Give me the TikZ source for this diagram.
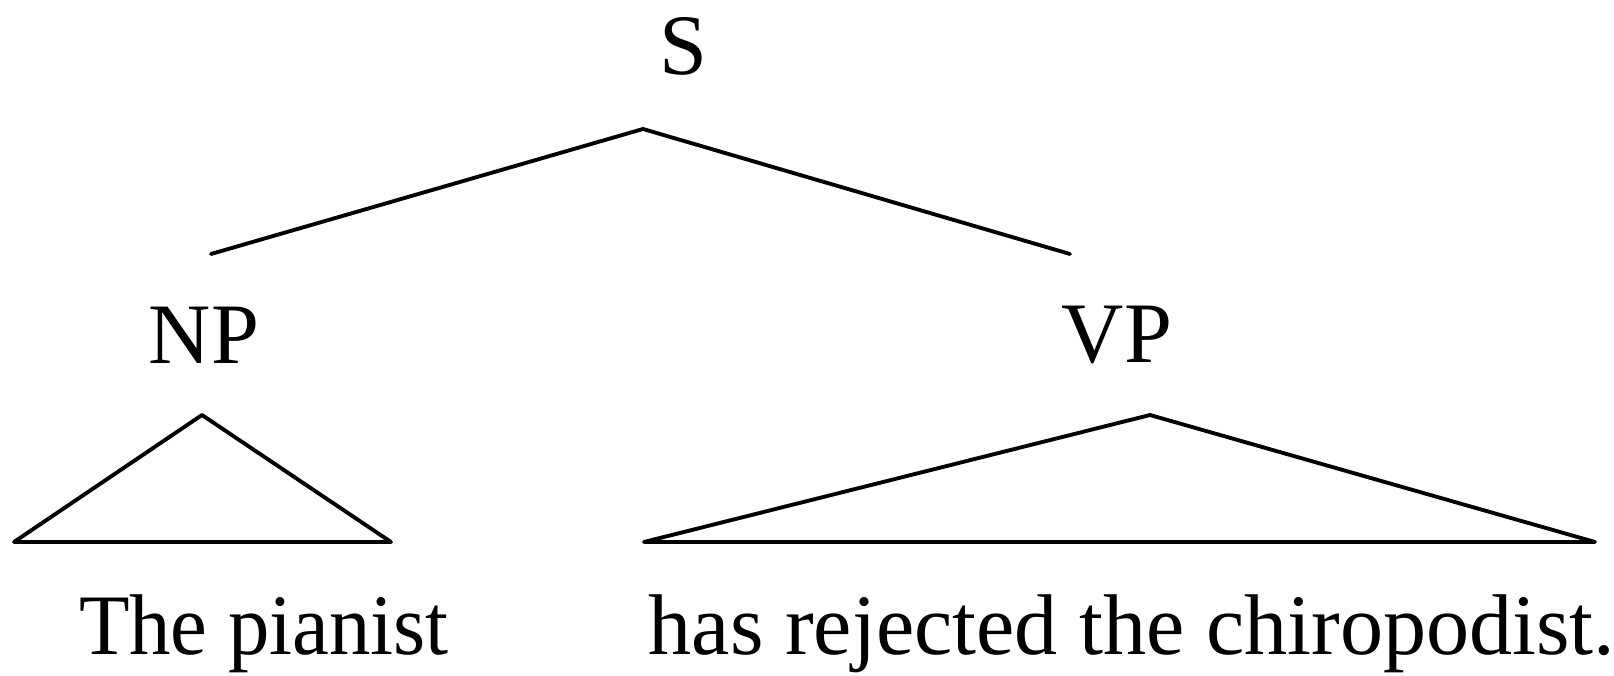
\documentclass[tikz,border=0pt]{standalone}
\usepackage{fontspec}
\setmainfont{Liberation Serif}
\usepackage{tikz}

\begin{document}
\begin{tikzpicture}[x=0.01cm, y=-0.01cm,
        cat/.style={inner sep=0pt, font=\fontsize{24.5}{29}\selectfont},
        words/.style={inner sep=0pt, anchor=base, font=\fontsize{24.5}{29}\selectfont},
        branch/.style={line width=1.1pt, line cap=round},
        roof/.style={line width=1.1pt, line join=round}]
    \useasboundingbox (0,0) rectangle (1614,676);

    % categories
    \node[cat] (s) at (683,46) {S};
    \node[cat] (np) at (204,335) {NP};
    \node[cat] (vp) at (1117,335) {VP};

    % terminal strings
    \node[words, xscale=0.96] (npwords) at (264,655) {The pianist};
    \node[words] (vpwords) at (1132,655) {has rejected the chiropodist.};

    % S branches
    \coordinate (stop) at (643,129);
    \coordinate (sleft) at (211,254);
    \coordinate (sright) at (1070,254);
    \draw[branch] (sleft) -- (stop) -- (sright);

    % triangles under NP and VP
    \coordinate (nptop) at (202,415);
    \coordinate (npl) at (14,542);
    \coordinate (npr) at (391,542);
    \draw[roof] (npl) -- (nptop) -- (npr) -- cycle;

    \coordinate (vptop) at (1150,415);
    \coordinate (vpl) at (644,542);
    \coordinate (vpr) at (1595,542);
    \draw[roof] (vpl) -- (vptop) -- (vpr) -- cycle;
\end{tikzpicture}
\end{document}
